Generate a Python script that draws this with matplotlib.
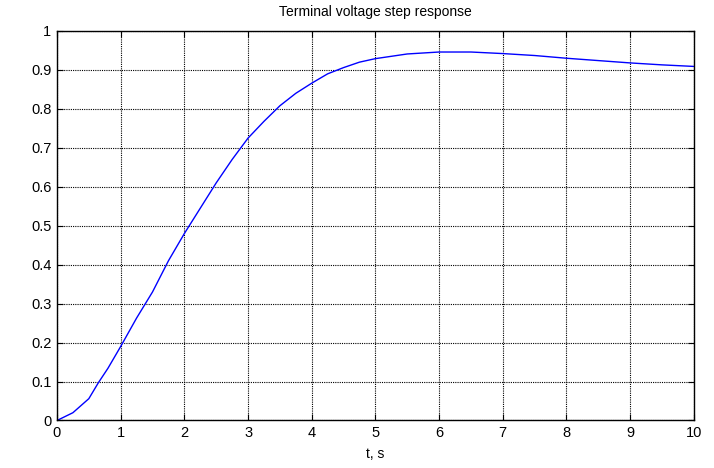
import matplotlib.pyplot as plt
import numpy as np

# step response
t = [0, 0.25, 0.5, 0.65, 0.8, 1.0, 1.25, 1.5, 1.75, 2.0, 2.25, 2.5, 2.75, 3.0,
     3.25, 3.5, 3.75, 4.0, 4.25, 4.5, 4.75, 5.0, 5.5, 6.0, 6.5, 7.0, 7.5,
     8.0, 8.5, 9.0, 9.5, 10.0]
v = [0, 0.02, 0.056, 0.097, 0.134, 0.19, 0.263, 0.33, 0.41, 0.48, 0.545, 0.61,
     0.67, 0.725, 0.768, 0.808, 0.84, 0.866, 0.89, 0.906, 0.92, 0.929,
     0.941, 0.946, 0.946, 0.942, 0.937, 0.93, 0.924, 0.918, 0.913, 0.909]

xticks = np.arange(0, 11, 1)
yticks = np.round(np.arange(0, 1.01, 0.1), 1)

plt.rcParams['font.family'] = ['Liberation Sans', 'DejaVu Sans']

fig = plt.figure(figsize=(7.14, 4.68), dpi=100)
ax = fig.add_axes([0.0798, 0.1015, 0.892, 0.8323])

ax.plot(t, v, color='#0000ff', lw=1.0)

ax.set_xlim(0, 10)
ax.set_ylim(0, 1)
ax.set_xticks(xticks)
ax.set_yticks(yticks)
ax.set_xticklabels([str(x) for x in xticks])
ax.set_yticklabels([f'{y:g}' for y in yticks])

ax.grid(True, color='black', linestyle=(0, (1, 1)), linewidth=0.8)
ax.tick_params(direction='in', length=4, width=0.8, top=True, right=True,
               labelsize=10.5, colors='black', pad=4)
for s in ax.spines.values():
    s.set_linewidth(1.0)
    s.set_color('black')

ax.set_title('Terminal voltage step response', fontsize=10, pad=11)
ax.set_xlabel('t, s', fontsize=10, labelpad=5)

fig.savefig('out.png', dpi=100)
